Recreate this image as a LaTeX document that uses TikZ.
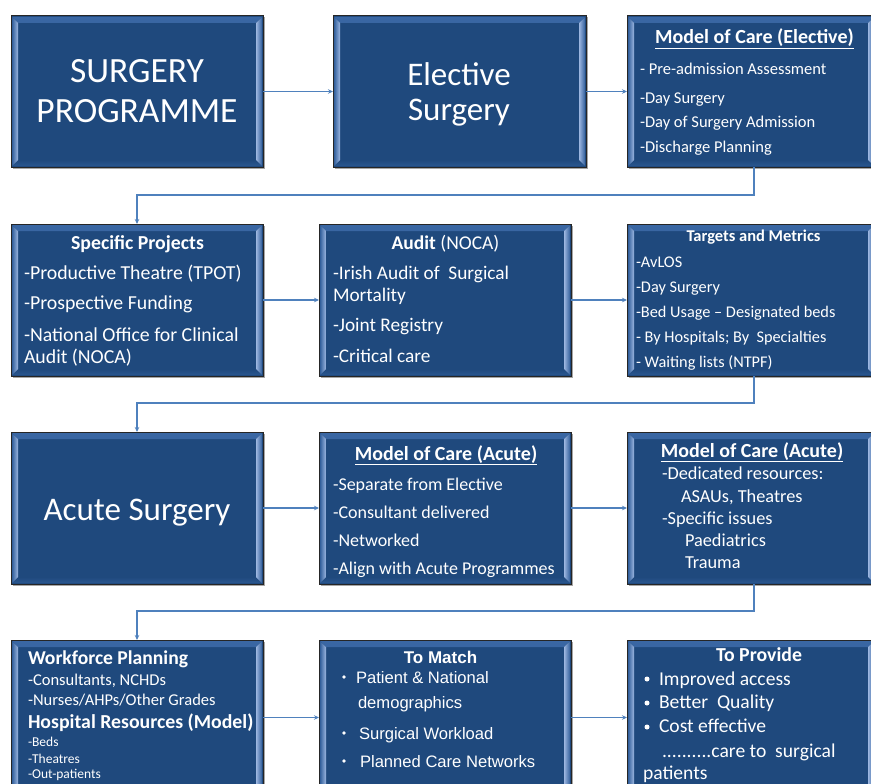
\documentclass[tikz,border=0pt]{standalone}
\usepackage{fontspec}
\setmainfont{Carlito}
\newfontfamily\arialf{Liberation Sans}
\usetikzlibrary{calc,shadows,arrows.meta}
\definecolor{boxblue}{HTML}{1F497D}
\definecolor{bevlight}{HTML}{9CB6E0}
\definecolor{bevmid}{HTML}{33609C}
\definecolor{bevtop}{HTML}{3A67A4}
\definecolor{bevbot}{HTML}{2A568F}
\definecolor{edgecol}{HTML}{262626}
\definecolor{linkcol}{HTML}{4F81BD}
\tikzset{
  panel/.style={draw=edgecol, line width=1pt, fill=boxblue, inner sep=0pt, outer sep=0pt,
    drop shadow={shadow xshift=1.5pt, shadow yshift=-1.5pt, opacity=0.35, fill=black},
    path picture={
      \fill[top color=bevtop, bottom color=boxblue] let \p1=(path picture bounding box.north west), \p2=(path picture bounding box.south east) in
        (\x1+1pt,\y1-1pt) -- (\x2-1pt,\y1-1pt) -- (\x2-7pt,\y1-7pt) -- (\x1+7pt,\y1-7pt) -- cycle;
      \fill[top color=boxblue, bottom color=bevbot] let \p1=(path picture bounding box.north west), \p2=(path picture bounding box.south east) in
        (\x1+1pt,\y2+1pt) -- (\x2-1pt,\y2+1pt) -- (\x2-7pt,\y2+7pt) -- (\x1+7pt,\y2+7pt) -- cycle;
      \fill[left color=bevmid, right color=bevlight] let \p1=(path picture bounding box.north west), \p2=(path picture bounding box.south east) in
        (\x1+1pt,\y1-1pt) -- (\x1+7pt,\y1-7pt) -- (\x1+7pt,\y2+7pt) -- (\x1+1pt,\y2+1pt) -- cycle;
      \fill[left color=bevlight, right color=bevmid] let \p1=(path picture bounding box.north west), \p2=(path picture bounding box.south east) in
        (\x2-1pt,\y1-1pt) -- (\x2-7pt,\y1-7pt) -- (\x2-7pt,\y2+7pt) -- (\x2-1pt,\y2+1pt) -- cycle;
    }},
  txt/.style={text=white, inner sep=0pt, outer sep=0pt, anchor=base west},
  ctr/.style={text=white, inner sep=0pt, outer sep=0pt, anchor=base},
  fsz/.style={font=\fontsize{#1}{#1}\selectfont},
  afsz/.style={font=\arialf\fontsize{#1}{#1}\selectfont},
  dot/.style={fill=white, circle, inner sep=0pt, minimum size=#1},
  link/.style={draw=linkcol, line width=1.2pt, -{Stealth[length=5pt,width=4.5pt]}},
}
\newcommand{\panelbox}[5]{%
  \node[panel, minimum width={#4-#2}, minimum height={#5-#3}] (#1) at ({(#2+#4)/2},{(#3+#5)/2}) {};}
\begin{document}
\begin{tikzpicture}[x=1pt,y=-1pt]
\useasboundingbox (0,0) rectangle (871,784);
\clip (0,0) rectangle (871,784);
% boxes
\panelbox{A}{11}{16}{263}{167}
\panelbox{B}{333}{16}{586}{167}
\panelbox{C}{627}{16}{875}{167}
\panelbox{D}{11}{224}{263}{376}
\panelbox{E}{319}{224}{571}{376}
\panelbox{F}{627}{224}{875}{376}
\panelbox{G}{11}{432}{263}{584}
\panelbox{H}{319}{432}{571}{584}
\panelbox{I}{627}{432}{875}{584}
\panelbox{J}{11}{640}{263}{795}
\panelbox{K}{319}{640}{571}{795}
\panelbox{L}{627}{640}{875}{795}
% connectors
\draw[link] (A) -- (B);
\draw[link] (B) -- (C);
\draw[link] (D) -- (E);
\draw[link] (E) -- (F);
\draw[link] (G) -- (H);
\draw[link] (H) -- (I);
\draw[link] (J) -- (K);
\draw[link] (K) -- (L);
\draw[link] ([xshift=3pt]C.south) -- ++(0,28) -| (D.north);
\draw[link] ([xshift=3pt]F.south) -- ++(0,27) -| (G.north);
\draw[link] ([xshift=3pt]I.south) -- ++(0,27) -| (J.north);
% A
\node[ctr, fsz=35.5] (a1) at (137,83) {SURGERY};
\node[ctr, fsz=35.5] (a2) at (137,123) {PROGRAMME};
% B
\node[ctr, fsz=33] (b1) at (459,86) {Elective};
\node[ctr, fsz=33] (b2) at (459,121) {Surgery};
% C
\node[ctr, fsz=20] (c0) at (754.5,44) {\bfseries\underline{Model of Care (Elective)}};
\node[txt, fsz=16.5] (c1) at (640,75) {- Pre-admission Assessment};
\node[txt, fsz=16.5] (c2) at (640,103) {-Day Surgery};
\node[txt, fsz=16.5] (c3) at (640,128) {-Day of Surgery Admission};
\node[txt, fsz=16.5] (c4) at (640,153) {-Discharge Planning};
% D
\node[ctr, fsz=19.8] (d0) at (137.5,249) {\bfseries Specific Projects};
\node[txt, fsz=19.8] (d1) at (24,279) {-Productive Theatre (TPOT)};
\node[txt, fsz=19.8] (d2) at (24,309) {-Prospective Funding};
\node[txt, fsz=19.8] (d3) at (24,341) {-National Office for Clinical};
\node[txt, fsz=19.8] (d4) at (24,363) {Audit (NOCA)};
% E
\node[ctr, fsz=19.5] (e0) at (445.5,249) {\textbf{Audit} (NOCA)};
\node[txt, fsz=19.3] (e1) at (333,279) {-Irish Audit of~~Surgical};
\node[txt, fsz=19.3] (e2) at (333,301) {Mortality};
\node[txt, fsz=19.3] (e3) at (333,331) {-Joint Registry};
\node[txt, fsz=19.3] (e4) at (333,362) {-Critical care};
% F
\node[ctr, fsz=16.5] (f0) at (753.5,241) {\bfseries Targets and Metrics};
\node[txt, fsz=16.3] (f1) at (636,267) {-AvLOS};
\node[txt, fsz=16.3] (f2) at (636,292) {-Day Surgery};
\node[txt, fsz=16.3] (f3) at (636,317) {-Bed Usage – Designated beds};
\node[txt, fsz=16.3] (f4) at (636,342) {- By Hospitals; By~~Specialties};
\node[txt, fsz=16.3] (f5) at (636,367) {- Waiting lists (NTPF)};
% G
\node[ctr, fsz=33] (g1) at (137,520) {Acute Surgery};
% H
\node[ctr, fsz=20] (h0) at (446,460) {\bfseries\underline{Model of Care (Acute)}};
\node[txt, fsz=18] (h1) at (333,490) {-Separate from Elective};
\node[txt, fsz=18] (h2) at (333,518) {-Consultant delivered};
\node[txt, fsz=18] (h3) at (333,546) {-Networked};
\node[txt, fsz=18] (h4) at (333,574) {-Align with Acute Programmes};
% I
\node[ctr, fsz=20] (i0) at (752,457) {\bfseries\underline{Model of Care (Acute)}};
\node[txt, fsz=18.3] (i1) at (662,479) {-Dedicated resources:};
\node[txt, fsz=18.3] (i2) at (681,502) {ASAUs, Theatres};
\node[txt, fsz=18.3] (i3) at (662,524) {-Specific issues};
\node[txt, fsz=18.3] (i4) at (685,546) {Paediatrics};
\node[txt, fsz=18.3] (i5) at (685,568) {Trauma};
% J
\node[txt, fsz=19.6] (j1) at (28,664) {\bfseries Workforce Planning};
\node[txt, fsz=16.5] (j2) at (28,685) {-Consultants, NCHDs};
\node[txt, fsz=16.5] (j3) at (28,705) {-Nurses/AHPs/Other Grades};
\node[txt, fsz=19.8] (j4) at (28,728) {\bfseries Hospital Resources (Model)};
\node[txt, fsz=13.5] (j5) at (28,746) {-Beds};
\node[txt, fsz=13.5] (j6) at (28,763) {-Theatres};
\node[txt, fsz=13.5] (j7) at (28,778) {-Out-patients};
% K
\node[ctr, afsz=17] (k0) at (440.5,663) {\bfseries To Match};
\node[dot=3.6pt] (kb1) at (344,677) {};
\node[txt, afsz=16.6] (k1) at (356,683) {Patient \& National};
\node[txt, afsz=16.6] (k2) at (358,708) {demographics};
\node[dot=3.6pt] (kb2) at (344,733) {};
\node[txt, afsz=16.6] (k3) at (359,739) {Surgical Workload};
\node[dot=3.6pt] (kb3) at (344,761) {};
\node[txt, afsz=16.6] (k4) at (360,767) {Planned Care Networks};
% L
\node[ctr, fsz=19.8] (l0) at (759,661) {\bfseries To Provide};
\node[dot=5pt] (lb1) at (647,679) {};
\node[txt, fsz=19.6] (l1) at (659,685) {Improved access};
\node[dot=5pt] (lb2) at (647,703) {};
\node[txt, fsz=19.6] (l2) at (659,708) {Better~~Quality};
\node[dot=5pt] (lb3) at (647,727) {};
\node[txt, fsz=19.6] (l3) at (659,732) {Cost effective};
\node[txt, fsz=19.6] (l4) at (662,757) {..........care to~~surgical};
\node[txt, fsz=19.6] (l5) at (643,779) {patients};
\end{tikzpicture}
\end{document}
